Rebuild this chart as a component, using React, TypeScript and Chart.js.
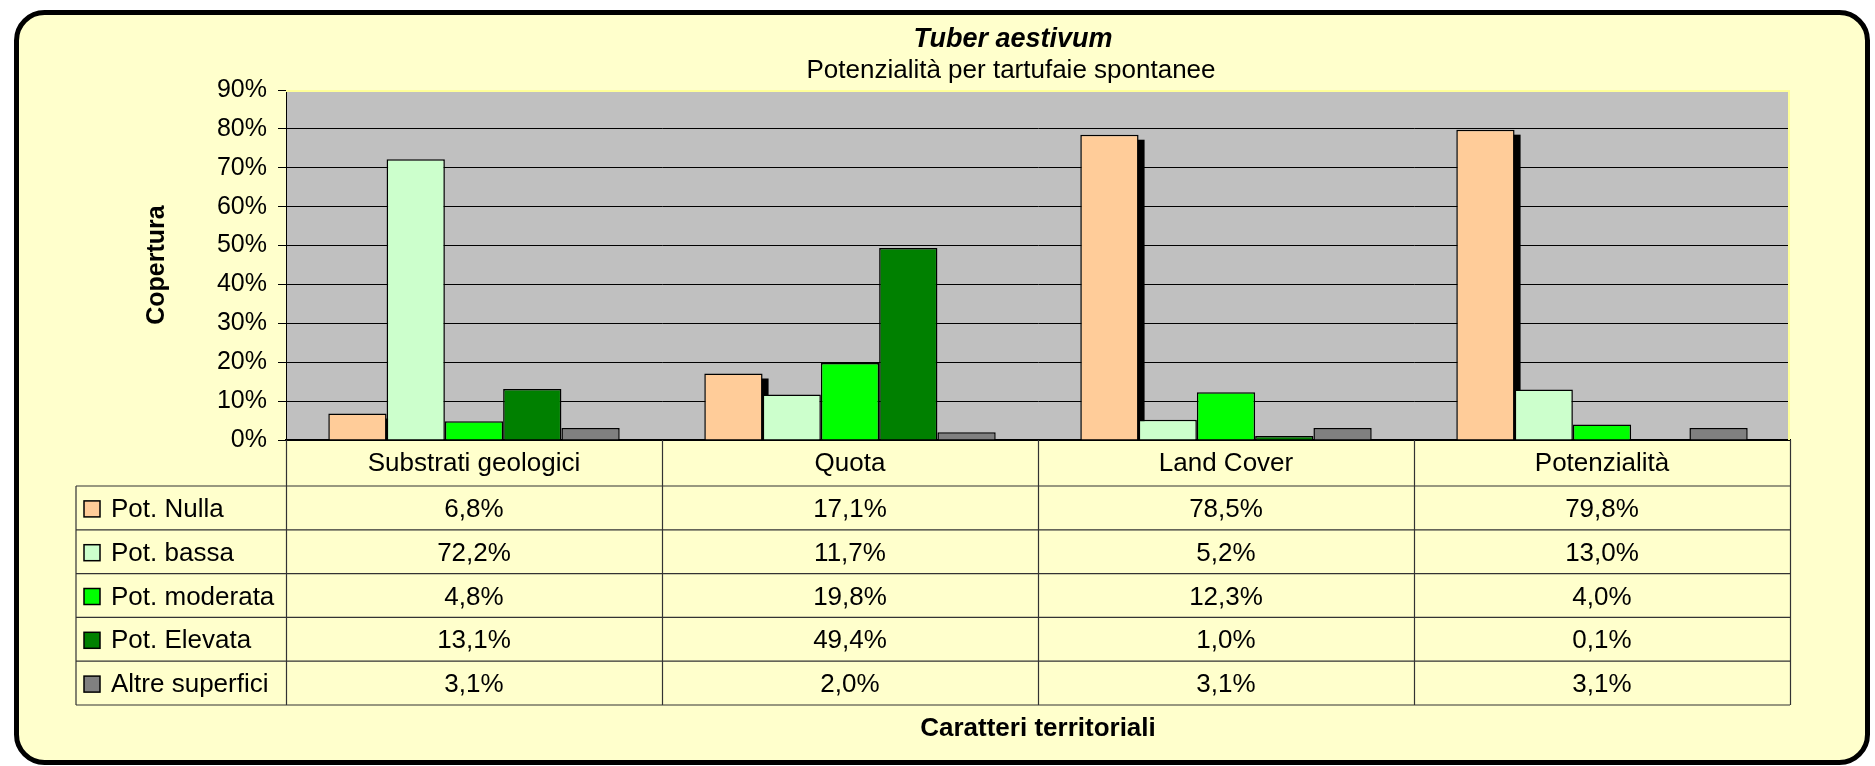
import { useEffect, useRef } from 'react';
import { Chart, registerables } from 'chart.js';

Chart.register(...registerables);

const categories = ['Substrati geologici', 'Quota', 'Land Cover', 'Potenzialità'];
const seriesNames = ['Pot. Nulla', 'Pot. bassa', 'Pot. moderata', 'Pot. Elevata', 'Altre superfici'];
const potNulla = [6.8, 17.1, 78.5, 79.8];
const potBassa = [72.2, 11.7, 5.2, 13.0];
const potModerata = [4.8, 19.8, 12.3, 4.0];
const potElevata = [13.1, 49.4, 1.0, 0.1];
const altreSuperfici = [3.1, 2.0, 3.1, 3.1];
const seriesColors = ['#FFCC99', '#CCFFCC', '#00FF00', '#008000', '#808080'];
const yMax = 90;
const yStep = 10;
const chartTitle = 'Tuber aestivum';
const chartSubtitle = 'Potenzialità per tartufaie spontanee';
const yTitle = 'Copertura';
const xTitle = 'Caratteri territoriali';

const seriesValues = [potNulla, potBassa, potModerata, potElevata, altreSuperfici];
const FONT = '"Liberation Sans", Arial, Helvetica, sans-serif';

const fmt = (v: number) => v.toFixed(1).replace('.', ',') + '%';

function roundRectPath(ctx: CanvasRenderingContext2D, x: number, y: number, w: number, h: number, r: number) {
  ctx.beginPath();
  ctx.moveTo(x + r, y);
  ctx.lineTo(x + w - r, y);
  ctx.arcTo(x + w, y, x + w, y + r, r);
  ctx.lineTo(x + w, y + h - r);
  ctx.arcTo(x + w, y + h, x + w - r, y + h, r);
  ctx.lineTo(x + r, y + h);
  ctx.arcTo(x, y + h, x, y + h - r, r);
  ctx.lineTo(x, y + r);
  ctx.arcTo(x, y, x + r, y, r);
  ctx.closePath();
}

const backgroundPlugin = {
  id: 'bgFrame',
  beforeDraw(chart: any) {
    const { ctx, width, height, chartArea } = chart;
    ctx.save();
    ctx.fillStyle = '#FFFFFF';
    ctx.fillRect(0, 0, width, height);
    roundRectPath(ctx, 16.5, 12.5, 1851, 750, 28);
    ctx.fillStyle = '#FFFFCC';
    ctx.fill();
    ctx.lineWidth = 5;
    ctx.strokeStyle = '#000000';
    ctx.stroke();
    ctx.fillStyle = '#C0C0C0';
    ctx.fillRect(chartArea.left, chartArea.top, chartArea.right - chartArea.left, chartArea.bottom - chartArea.top);
    ctx.restore();
  },
};

const shadowPlugin = {
  id: 'barShadow',
  beforeDatasetsDraw(chart: any) {
    const { ctx, chartArea } = chart;
    const meta = chart.getDatasetMeta(0);
    ctx.save();
    ctx.beginPath();
    ctx.rect(chartArea.left, chartArea.top, chartArea.right - chartArea.left, chartArea.bottom - chartArea.top);
    ctx.clip();
    ctx.strokeStyle = '#FFFF99';
    ctx.lineWidth = 2;
    ctx.beginPath();
    ctx.moveTo(chartArea.left, chartArea.top + 1);
    ctx.lineTo(chartArea.right - 1, chartArea.top + 1);
    ctx.lineTo(chartArea.right - 1, chartArea.bottom);
    ctx.stroke();
    ctx.fillStyle = '#000000';
    meta.data.forEach((el: any) => {
      const p = el.getProps(['x', 'y', 'base', 'width'], true);
      const left = p.x - p.width / 2;
      ctx.fillRect(left + 6, p.y + 5, p.width, p.base - p.y);
    });
    ctx.restore();
  },
};

const tablePlugin = {
  id: 'dataTable',
  afterDraw(chart: any) {
    const { ctx, chartArea } = chart;
    const xs = chart.scales.x;
    const top = chartArea.bottom;
    const headerBottom = top + 46;
    const tableBottom = 705;
    const rowH = (tableBottom - headerBottom) / seriesNames.length;
    const tableLeft = 76;
    const right = chartArea.right;
    ctx.save();

    ctx.fillStyle = '#000';
    ctx.textAlign = 'center';
    ctx.textBaseline = 'middle';
    ctx.font = `italic bold 27px ${FONT}`;
    ctx.fillText(chartTitle, 1013, 40);
    ctx.font = `26px ${FONT}`;
    ctx.fillText(chartSubtitle, 1011, 71);

    ctx.strokeStyle = '#333333';
    ctx.lineWidth = 1.2;
    ctx.beginPath();
    ctx.moveTo(tableLeft, headerBottom);
    ctx.lineTo(right, headerBottom);
    for (let r = 1; r <= seriesNames.length; r++) {
      const y = headerBottom + r * rowH;
      ctx.moveTo(tableLeft, y);
      ctx.lineTo(right, y);
    }
    ctx.moveTo(tableLeft, headerBottom);
    ctx.lineTo(tableLeft, tableBottom);
    for (let i = 0; i <= categories.length; i++) {
      const x = Math.round(xs.getPixelForValue(i - 0.5)) + 0.5;
      ctx.moveTo(x, top);
      ctx.lineTo(x, tableBottom);
    }
    ctx.stroke();

    ctx.fillStyle = '#000';
    ctx.font = `26px ${FONT}`;
    ctx.textAlign = 'center';
    ctx.textBaseline = 'middle';
    categories.forEach((c, i) => {
      ctx.fillText(c, xs.getPixelForValue(i), (top + headerBottom) / 2 + 1);
    });

    seriesNames.forEach((name, r) => {
      const cy = headerBottom + r * rowH + rowH / 2 + 2;
      ctx.fillStyle = seriesColors[r];
      ctx.fillRect(84, cy - 9, 16, 16);
      ctx.strokeStyle = '#000';
      ctx.lineWidth = 1.5;
      ctx.strokeRect(84, cy - 9, 16, 16);
      ctx.fillStyle = '#000';
      ctx.textAlign = 'left';
      ctx.fillText(name, 111, cy);
      ctx.textAlign = 'center';
      seriesValues[r].forEach((v, i) => {
        ctx.fillText(fmt(v), xs.getPixelForValue(i), cy);
      });
    });
    ctx.restore();
  },
};

export default function App() {
  const canvasRef = useRef<HTMLCanvasElement | null>(null);

  useEffect(() => {
    const canvas = canvasRef.current;
    if (!canvas) return;
    const chart = new Chart(canvas, {
      type: 'bar',
      data: {
        labels: categories,
        datasets: seriesNames.map((name, i) => ({
          label: name,
          data: seriesValues[i],
          backgroundColor: seriesColors[i],
          borderColor: '#000000',
          borderWidth: 1.5,
          categoryPercentage: 0.775,
          barPercentage: 1,
        })),
      },
      options: {
        responsive: false,
        animation: false,
        devicePixelRatio: 1,
        layout: { padding: { top: 90, right: 85, left: 0, bottom: 0 } },
        plugins: {
          legend: { display: false },
          tooltip: { enabled: false },
          title: { display: false },
        },
        scales: {
          x: {
            grid: { display: false },
            border: { display: true, color: '#000000', width: 1.5 },
            ticks: { display: false },
            title: {
              display: true,
              text: xTitle,
              color: '#000',
              font: { family: FONT, size: 26, weight: 'bold' },
              padding: { top: 0, bottom: 22 },
            },
            afterFit: (s: any) => {
              s.height = 326;
            },
          },
          y: {
            min: 0,
            max: yMax,
            ticks: {
              stepSize: yStep,
              color: '#000',
              padding: 11,
              font: { family: FONT, size: 25 },
              callback: (v: any) => v + '%',
            },
            grid: {
              color: (c: any) => (c.tick && c.tick.value === yMax ? 'rgba(0,0,0,0)' : '#000000'),
              tickColor: '#000000',
              tickLength: 8,
              lineWidth: 1,
            },
            border: { display: true, color: '#000000', width: 1 },
            title: {
              display: true,
              text: yTitle,
              color: '#000',
              font: { family: FONT, size: 25, weight: 'bold' },
              padding: { top: 142, bottom: 0 },
            },
            afterFit: (s: any) => {
              s.width = 286;
            },
          },
        },
      },
      plugins: [backgroundPlugin, shadowPlugin, tablePlugin],
    } as any);
    return () => chart.destroy();
  }, []);

  return (
    <div style={{ position: 'fixed', left: 0, top: 0, width: 1875, height: 766 }}>
      <canvas ref={canvasRef} width={1875} height={766} style={{ display: 'block', width: 1875, height: 766 }} />
    </div>
  );
}
